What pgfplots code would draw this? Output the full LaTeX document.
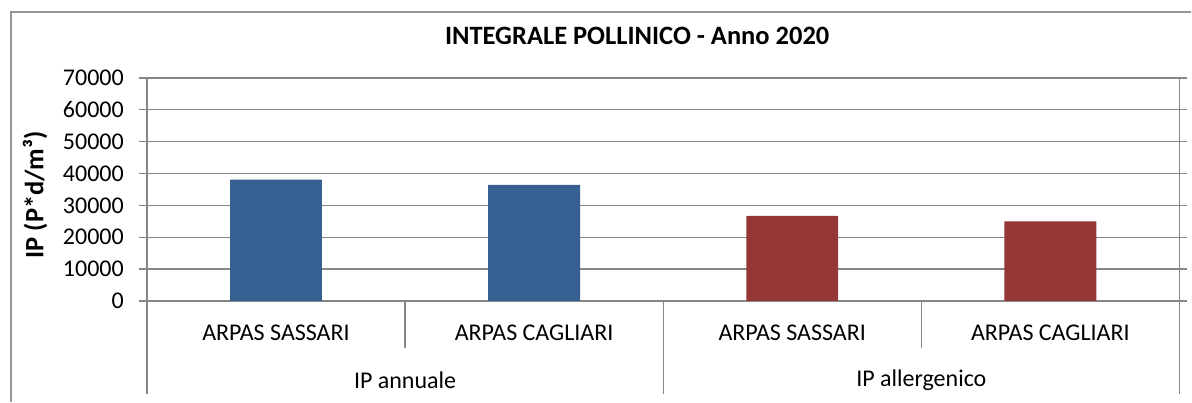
\documentclass[border=0pt]{standalone}
\usepackage{pgfplots}
\pgfplotsset{compat=1.18}
\usepackage{fontspec}
\setmainfont{Carlito}
\definecolor{barblue}{RGB}{55,96,146}
\definecolor{barred}{RGB}{149,55,53}
\definecolor{gridgray}{RGB}{134,134,134}
\definecolor{framegray}{RGB}{150,150,150}
\newcommand{\fs}{\fontsize{24}{28}\selectfont}
\newcommand{\fb}{\fontsize{26.5}{30}\selectfont\bfseries}
\begin{document}
\begin{tikzpicture}[x=1pt,y=1pt]
\path (0,0) rectangle (1192,402);
\draw[framegray, line width=1.2pt] (11,0) -- (11,390) -- (1192,390);
\node[font=\fb] at (637.5,366) {INTEGRALE POLLINICO - Anno 2020};
\node[rotate=90,font=\fb] at (35,207) {IP (P*d/m³)};
\begin{axis}[
  at={(147pt,101pt)}, anchor=south west,
  scale only axis, width=1033pt, height=223pt,
  ymin=0, ymax=70000, ytick={0,10000,...,70000},
  xmin=-0.5, xmax=3.5, xtick={0,1,2,3},
  xticklabels={ARPAS SASSARI,ARPAS CAGLIARI,ARPAS SASSARI,ARPAS CAGLIARI},
  scaled y ticks=false,
  /pgf/number format/assume math mode=true,
  yticklabel style={font=\fs, /pgf/number format/fixed, /pgf/number format/1000 sep={}, anchor=east, inner sep=0pt, xshift=-15pt},
  xticklabel style={font=\fs, anchor=base, inner sep=0pt, yshift=-32pt},
  ymajorgrids, grid style={gridgray, line width=1.3pt},
  axis line style={gridgray, line width=1.3pt},
  ytick style={gridgray, line width=1.3pt},
  tick align=outside, major tick length=8pt,
  xtick style={draw=none},
  every axis plot/.append style={ybar, bar width=0.356, bar shift=0pt, draw=none},
]
\addplot[fill=barblue] coordinates {(0,38100) (1,36400)};
\addplot[fill=barred] coordinates {(2,26700) (3,25000)};
\end{axis}
\draw[gridgray, line width=1.3pt] (147,101) -- (147,8);
\draw[gridgray, line width=1.3pt] (1180,101) -- (1180,8);
\draw[gridgray, line width=1.3pt] (663.5,101) -- (663.5,8);
\draw[gridgray, line width=1.3pt] (405.25,101) -- (405.25,54);
\draw[gridgray, line width=1.3pt] (921.75,101) -- (921.75,54);
\node[font=\fs] at (405.25,22) {IP annuale};
\node[font=\fs] at (921.75,22) {IP allergenico};
\end{tikzpicture}
\end{document}
